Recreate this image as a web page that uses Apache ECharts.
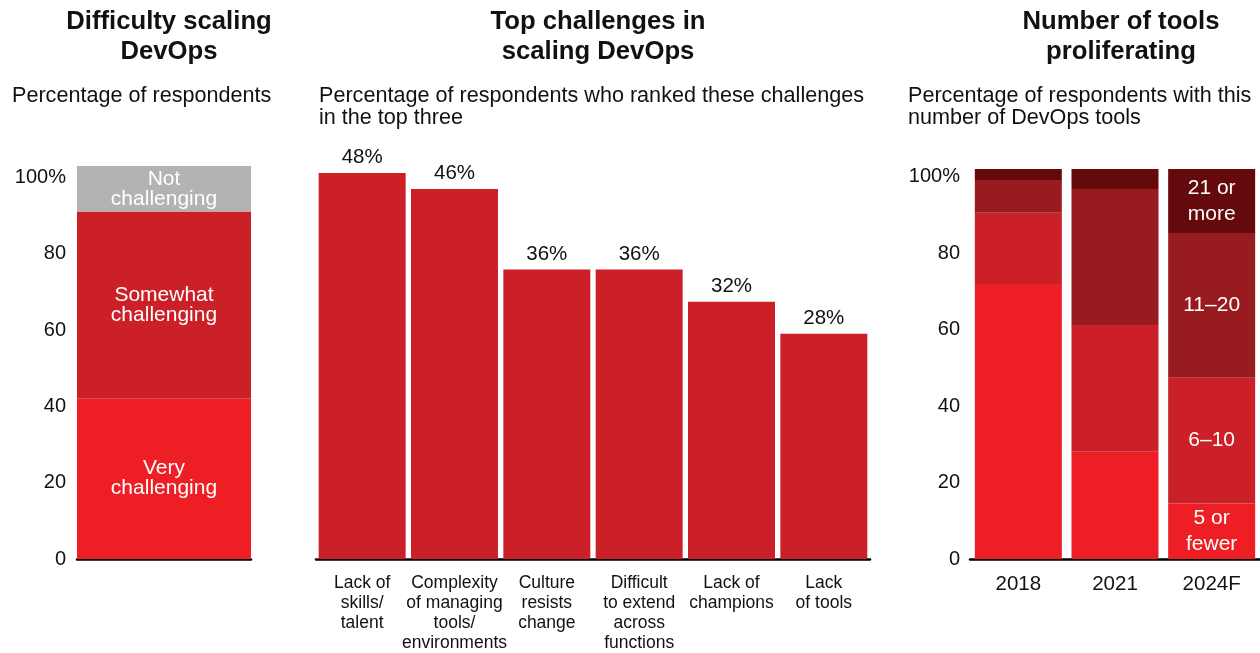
<!DOCTYPE html>
<html>
<head>
<meta charset="utf-8">
<script src="https://cdn.jsdelivr.net/npm/echarts@6/dist/echarts.min.js"></script>
<style>
  html, body { margin: 0; padding: 0; background: #fff; }
  #chart { width: 1260px; height: 653px; }
</style>
</head>
<body>
<div id="chart"></div>
<script>
// ---- Data ----
const difficultyCategories = ['DevOps'];
const veryChallenging = [40.9];
const somewhatChallenging = [47.5];
const notChallenging = [11.6];

const challengeCategories = [
  'Lack of\nskills/\ntalent',
  'Complexity\nof managing\ntools/\nenvironments',
  'Culture\nresists\nchange',
  'Difficult\nto extend\nacross\nfunctions',
  'Lack of\nchampions',
  'Lack\nof tools'
];
const challengeValues = [48, 46, 36, 36, 32, 28];

const toolYears = ['2018', '2021', '2024F'];
const fiveOrFewer = [70.5, 27.5, 14.2];
const sixToTen = [18.3, 32.5, 32.3];
const elevenToTwenty = [8.4, 34.9, 37.1];
const twentyOneOrMore = [2.8, 5.1, 16.4];

const percentTicks = [0, 20, 40, 60, 80, 100];

// ---- Styles ----
const FONT = "'Liberation Sans', Arial, Helvetica, sans-serif";
const C_BRIGHT = '#ED1F24';
const C_MID = '#CB2027';
const C_DARK = '#981B20';
const C_DARKEST = '#640A0D';
const C_GREY = '#B3B3B3';
const TXT = '#111';

function tickFmt(v) {
  if (percentTicks.indexOf(v) < 0) return '';
  return v === 100 ? '100%' : String(v);
}

function inBarLabel(text, lh, showIdx) {
  return {
    show: true,
    position: 'inside',
    color: '#fff',
    fontFamily: FONT,
    fontSize: 21,
    lineHeight: lh,
    align: 'center',
    verticalAlign: 'middle',
    formatter: function (p) { return (showIdx === undefined || p.dataIndex === showIdx) ? text : ''; }
  };
}

const chart = echarts.init(document.getElementById('chart'), null, { renderer: 'canvas' });

const titleStyle = { fontFamily: FONT, fontSize: 25.7, fontWeight: 'bold', lineHeight: 30, color: TXT };
const subStyle = { fontFamily: FONT, fontSize: 21.6, fontWeight: 'normal', lineHeight: 22, color: TXT };

const option = {
  animation: false,
  backgroundColor: '#fff',
  textStyle: { fontFamily: FONT },
  title: [
    { text: 'Difficulty scaling\nDevOps', left: 164, top: 2, textAlign: 'center', textStyle: titleStyle },
    { text: 'Top challenges in\nscaling DevOps', left: 593, top: 2, textAlign: 'center', textStyle: titleStyle },
    { text: 'Number of tools\nproliferating', left: 1116, top: 2, textAlign: 'center', textStyle: titleStyle },
    { text: 'Percentage of respondents', left: 7, top: 80, textStyle: subStyle },
    { text: 'Percentage of respondents who ranked these challenges\nin the top three', left: 314, top: 80, textStyle: subStyle },
    { text: 'Percentage of respondents with this\nnumber of DevOps tools', left: 903, top: 80, textStyle: subStyle }
  ],
  grid: [
    { left: 77, top: 166, width: 174, height: 393 },
    { left: 316, top: 173, width: 554, height: 386 },
    { left: 970, top: 169, width: 290, height: 390 }
  ],
  xAxis: [
    { type: 'category', gridIndex: 0, data: difficultyCategories,
      axisLine: { show: true, lineStyle: { color: '#000', width: 2.5 } },
      axisTick: { show: false }, axisLabel: { show: false } },
    { type: 'category', gridIndex: 1, data: challengeCategories,
      axisLine: { show: true, lineStyle: { color: '#000', width: 2.5 } },
      axisTick: { show: false },
      axisLabel: { show: true, interval: 0, margin: 14, color: TXT, fontFamily: FONT, fontSize: 17.5, lineHeight: 20, align: 'center' } },
    { type: 'category', gridIndex: 2, data: toolYears,
      axisLine: { show: true, lineStyle: { color: '#000', width: 2.5 } },
      axisTick: { show: false },
      axisLabel: { show: true, interval: 0, margin: 15, color: TXT, fontFamily: FONT, fontSize: 20.5 } }
  ],
  yAxis: [
    // 0: hidden scale for left bars
    { type: 'value', gridIndex: 0, min: 0, max: 100, show: false, position: 'right' },
    // 1: visible percent ticks for left panel
    { type: 'value', gridIndex: 0, min: 0, max: 103, interval: 20, position: 'left',
      axisLine: { show: false }, axisTick: { show: false }, splitLine: { show: false },
      axisLabel: { show: true, margin: 11, color: TXT, fontFamily: FONT, fontSize: 20, padding: [0, 0, 4, 0], formatter: tickFmt } },
    // 2: hidden scale for middle bars
    { type: 'value', gridIndex: 1, min: 0, max: 48, show: false },
    // 3: hidden scale for right bars
    { type: 'value', gridIndex: 2, min: 0, max: 100, show: false, position: 'right' },
    // 4: visible percent ticks for right panel
    { type: 'value', gridIndex: 2, min: 0, max: 102, interval: 20, position: 'left',
      axisLine: { show: false }, axisTick: { show: false }, splitLine: { show: false },
      axisLabel: { show: true, margin: 10, color: TXT, fontFamily: FONT, fontSize: 20, padding: [0, 0, 4, 0], formatter: tickFmt } }
  ],
  series: [
    // Left panel
    { name: 'Very challenging', type: 'bar', xAxisIndex: 0, yAxisIndex: 0, stack: 'diff',
      barCategoryGap: '0%', data: veryChallenging, itemStyle: { color: C_BRIGHT },
      label: inBarLabel('Very\nchallenging', 20) },
    { name: 'Somewhat challenging', type: 'bar', xAxisIndex: 0, yAxisIndex: 0, stack: 'diff',
      barCategoryGap: '0%', data: somewhatChallenging, itemStyle: { color: C_MID },
      label: inBarLabel('Somewhat\nchallenging', 20) },
    { name: 'Not challenging', type: 'bar', xAxisIndex: 0, yAxisIndex: 0, stack: 'diff',
      barCategoryGap: '0%', data: notChallenging, itemStyle: { color: C_GREY },
      label: inBarLabel('Not\nchallenging', 20) },
    // Middle panel
    { name: 'Top challenges', type: 'bar', xAxisIndex: 1, yAxisIndex: 2,
      barWidth: 87, data: challengeValues, itemStyle: { color: C_MID },
      label: { show: true, position: 'top', distance: 5, color: TXT, fontFamily: FONT, fontSize: 20.5,
        formatter: function (p) { return p.value + '%'; } } },
    // Right panel
    { name: '5 or fewer', type: 'bar', xAxisIndex: 2, yAxisIndex: 3, stack: 'tools',
      barWidth: 87, data: fiveOrFewer, itemStyle: { color: C_BRIGHT },
      label: inBarLabel('5 or\nfewer', 26, 2) },
    { name: '6–10', type: 'bar', xAxisIndex: 2, yAxisIndex: 3, stack: 'tools',
      barWidth: 87, data: sixToTen, itemStyle: { color: C_MID },
      label: inBarLabel('6–10', 26, 2) },
    { name: '11–20', type: 'bar', xAxisIndex: 2, yAxisIndex: 3, stack: 'tools',
      barWidth: 87, data: elevenToTwenty, itemStyle: { color: C_DARK },
      label: inBarLabel('11–20', 26, 2) },
    { name: '21 or more', type: 'bar', xAxisIndex: 2, yAxisIndex: 3, stack: 'tools',
      barWidth: 87, data: twentyOneOrMore, itemStyle: { color: C_DARKEST },
      label: inBarLabel('21 or\nmore', 26, 2) }
  ]
};

chart.setOption(option);
</script>
</body>
</html>
